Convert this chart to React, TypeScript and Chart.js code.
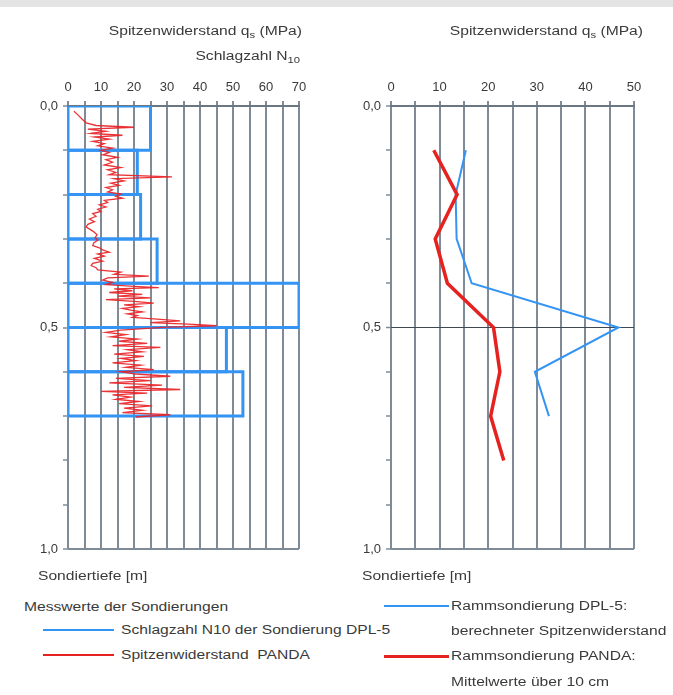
import React, { useEffect, useRef } from 'react';
import { Chart, registerables } from 'chart.js';

Chart.register(...registerables);

// ---------------- data ----------------
// Left chart: DPL-5 blow count N10 per 10 cm layer (drawn as boxes)
const layerTop = [0.0, 0.1, 0.2, 0.3, 0.4, 0.5, 0.6];
const layerBottom = [0.1, 0.2, 0.3, 0.4, 0.5, 0.6, 0.7];
const n10 = [25, 21, 22, 27, 70, 48, 53];

// Left chart: PANDA cone resistance profile (MPa) vs depth (m)
const pandaDepth = [
  0.012, 0.020, 0.030, 0.038, 0.044, 0.048, 0.052, 0.057, 0.062, 0.066,
  0.070, 0.075, 0.080, 0.085, 0.090, 0.095, 0.100, 0.105, 0.110, 0.116,
  0.121, 0.127, 0.133, 0.139, 0.144, 0.150, 0.155, 0.160, 0.164, 0.169,
  0.174, 0.179, 0.184, 0.189, 0.194, 0.199, 0.204, 0.208, 0.213, 0.218,
  0.223, 0.228, 0.233, 0.238, 0.243, 0.249, 0.255, 0.261, 0.267, 0.273,
  0.279, 0.285, 0.291, 0.297, 0.303, 0.309, 0.315, 0.320, 0.325, 0.330,
  0.334, 0.339, 0.344, 0.350, 0.355, 0.360, 0.365, 0.370, 0.375, 0.380,
  0.384, 0.388, 0.393, 0.398, 0.403, 0.407, 0.410, 0.413, 0.417, 0.421,
  0.425, 0.429, 0.433, 0.437, 0.441, 0.445, 0.449, 0.453, 0.457, 0.461,
  0.465, 0.469, 0.473, 0.477, 0.481, 0.485, 0.489, 0.493, 0.496, 0.499,
  0.502, 0.506, 0.511, 0.516, 0.521, 0.526, 0.531, 0.536, 0.541, 0.545,
  0.550, 0.555, 0.560, 0.565, 0.570, 0.575, 0.580, 0.585, 0.590, 0.595,
  0.600, 0.605, 0.610, 0.615, 0.620, 0.625, 0.630, 0.635, 0.640, 0.644,
  0.648, 0.652, 0.657, 0.662, 0.667, 0.672, 0.677, 0.682, 0.687, 0.692,
  0.697, 0.702,
];
const pandaQs = [
  1.8, 3.0, 4.3, 5.5, 8.5, 20.0, 6.0, 11.5, 7.0, 16.5,
  8.0, 12.5, 7.5, 11.0, 9.0, 13.5, 10.0, 12.5, 10.5, 15.0,
  11.5, 13.5, 11.0, 16.0, 12.0, 14.5, 12.5, 31.5, 14.0, 17.0,
  13.0, 15.5, 11.5, 13.5, 12.0, 16.0, 14.5, 16.5, 11.0, 12.0,
  9.5, 11.5, 9.0, 10.0, 7.5, 8.5, 6.5, 8.0, 6.0, 5.5,
  6.8, 8.0, 8.8, 8.2, 9.0, 7.8, 7.5, 9.5, 10.5, 12.5,
  9.0, 11.0, 8.0, 10.5, 7.5, 7.0, 8.5, 9.0, 16.0, 14.0,
  24.5, 12.0, 10.5, 13.5, 11.5, 20.0, 27.5, 14.0, 19.5, 12.5,
  22.5, 15.0, 25.0, 11.5, 20.0, 26.0, 17.0, 21.5, 16.5, 19.0,
  22.5, 18.0, 21.0, 19.5, 27.0, 34.0, 25.0, 38.0, 45.0, 30.0,
  24.0, 16.0, 11.5, 17.5, 13.0, 21.0, 15.5, 24.0, 13.5, 28.0,
  18.0, 22.5, 14.0, 23.0, 16.0, 20.5, 13.5, 22.0, 17.5, 26.0,
  16.0, 20.5, 31.0, 14.5, 25.0, 12.5, 28.5, 17.0, 34.0, 10.0,
  24.0, 13.5, 19.0, 14.5, 21.5, 15.5, 25.5, 17.0, 22.5, 16.5,
  31.0, 20.5,
];

// Right chart: DPL-5 computed cone resistance (MPa)
const dplDepth = [0.1, 0.2, 0.3, 0.4, 0.5, 0.6, 0.7];
const dplQs = [15.4, 13.3, 13.5, 16.6, 46.8, 29.6, 32.5];

// Right chart: PANDA mean values over 10 cm (MPa)
const pandaMeanDepth = [0.1, 0.2, 0.3, 0.4, 0.5, 0.6, 0.7, 0.8];
const pandaMeanQs = [8.8, 13.6, 9.1, 11.6, 21.1, 22.4, 20.5, 23.2];

// Axis ticks
const leftXMax = 70;
const rightXMax = 50;
const xLabelStep = 10;
const xGridStep = 5;
const depthStep = 0.1;
const depthLabelValues = [0.0, 0.5, 1.0];
const depthLabels = ['0,0', '0,5', '1,0'];

// ---------------- styling ----------------
const FONT = '"Liberation Sans", Arial, sans-serif';
const TEXT = '#3a3a3a';
const GRID = '#7f8c97';
const AXIS = '#6a7782';
const BLUE = '#3494f4';
const RED = '#e5221f';
const TS = 1.25; // horizontal text stretch as in reference

type Seg = { t: string; sub?: boolean };
type RichItem = {
  segs: Seg[];
  x: (a: any) => number;
  y: number;
  align: 'left' | 'right';
  size: number;
};

function drawRich(ctx: CanvasRenderingContext2D, it: RichItem, x: number) {
  const fMain = `${it.size}px ${FONT}`;
  const fSub = `${Math.round(it.size * 0.72)}px ${FONT}`;
  ctx.save();
  ctx.fillStyle = TEXT;
  ctx.textBaseline = 'middle';
  ctx.textAlign = 'left';
  let w = 0;
  for (const s of it.segs) {
    ctx.font = s.sub ? fSub : fMain;
    w += ctx.measureText(s.t).width;
  }
  ctx.translate(x, it.y);
  ctx.scale(TS, 1);
  let cx = it.align === 'right' ? -w : 0;
  for (const s of it.segs) {
    ctx.font = s.sub ? fSub : fMain;
    ctx.fillText(s.t, cx, s.sub ? it.size * 0.32 : 0);
    cx += ctx.measureText(s.t).width;
  }
  ctx.restore();
}

function richPlugin(items: RichItem[]) {
  return {
    id: 'richText',
    afterDraw(chart: any) {
      const a = chart.chartArea;
      for (const it of items) drawRich(chart.ctx, it, it.x(a));
    },
  };
}

const isMajorDepth = (v: number) => depthLabelValues.some((d) => Math.abs(d - v) < 1e-6);

function makeOptions(xMax: number, padRight: number, midLine: { color: string; width: number }) {
  return {
    responsive: false,
    maintainAspectRatio: false,
    animation: false as const,
    devicePixelRatio: 1,
    layout: { padding: { left: 0, top: 0, right: padRight, bottom: 51 } },
    plugins: { legend: { display: false }, tooltip: { enabled: false }, title: { display: false } },
    elements: { point: { radius: 0, hoverRadius: 0 } },
    scales: {
      x: {
        type: 'linear' as const,
        position: 'top' as const,
        min: 0,
        max: xMax,
        afterFit: (s: any) => {
          s.height = 106;
        },
        ticks: {
          stepSize: xGridStep,
          autoSkip: false,
          maxRotation: 0,
          padding: 6,
          color: TEXT,
          font: { family: FONT, size: 13 },
          callback: (v: any) => (Number(v) % xLabelStep === 0 ? String(v) : ''),
        },
        grid: {
          color: GRID,
          lineWidth: 2,
          tickLength: 5,
          tickColor: GRID,
          tickWidth: 2,
        },
        border: { display: true, color: AXIS, width: 2 },
      },
      y: {
        type: 'linear' as const,
        reverse: true,
        min: 0,
        max: 1,
        afterFit: (s: any) => {
          s.width = 68;
        },
        ticks: {
          stepSize: depthStep,
          autoSkip: false,
          padding: 5,
          color: TEXT,
          font: { family: FONT, size: 13 },
          callback: (v: any) => {
            const idx = depthLabelValues.findIndex((d) => Math.abs(d - Number(v)) < 1e-6);
            return idx >= 0 ? depthLabels[idx] : '';
          },
        },
        grid: {
          color: (c: any) => {
            const v = c.tick ? c.tick.value : -1;
            if (Math.abs(v - 0.5) < 1e-6) return midLine.color;
            return isMajorDepth(v) ? GRID : 'rgba(0,0,0,0)';
          },
          lineWidth: (c: any) => {
            const v = c.tick ? c.tick.value : -1;
            return Math.abs(v - 0.5) < 1e-6 ? midLine.width : 2;
          },
          tickLength: 5,
          tickColor: GRID,
          tickWidth: 1.5,
        },
        border: { display: false },
      },
    },
  };
}

const titleQs: Seg[] = [{ t: 'Spitzenwiderstand q' }, { t: 's', sub: true }, { t: ' (MPa)' }];
const titleN10: Seg[] = [{ t: 'Schlagzahl N' }, { t: '10', sub: true }];
const depthTitle: Seg[] = [{ t: 'Sondiertiefe [m]' }];

function LeftChart() {
  const ref = useRef<HTMLCanvasElement | null>(null);
  useEffect(() => {
    if (!ref.current) return;
    const boxes = n10.map((n, i) => ({
      label: `N10 ${i}`,
      data: [
        { x: 0, y: layerTop[i] },
        { x: n, y: layerTop[i] },
        { x: n, y: layerBottom[i] },
        { x: 0, y: layerBottom[i] },
        { x: 0, y: layerTop[i] },
      ],
      showLine: true,
      borderColor: BLUE,
      borderWidth: 3,
      borderJoinStyle: 'miter' as const,
      pointRadius: 0,
      fill: false,
    }));
    const panda = {
      label: 'Spitzenwiderstand PANDA',
      data: pandaDepth.map((d, i) => ({ x: pandaQs[i], y: d })),
      showLine: true,
      borderColor: 'rgba(232,34,38,0.92)',
      borderWidth: 1.3,
      pointRadius: 0,
      fill: false,
    };
    const chart = new Chart(ref.current, {
      type: 'scatter',
      data: { datasets: [panda, ...boxes] as any },
      options: makeOptions(leftXMax, 24, { color: GRID, width: 2 }) as any,
      plugins: [
        richPlugin([
          { segs: titleQs, x: (a) => a.right + 3, y: 32, align: 'right', size: 12.5 },
          { segs: titleN10, x: (a) => a.right + 1, y: 57, align: 'right', size: 12.5 },
          { segs: depthTitle, x: (a) => a.left - 30, y: 577, align: 'left', size: 12.5 },
        ]),
      ],
    });
    return () => chart.destroy();
  }, []);
  return <canvas ref={ref} width={323} height={600} style={{ position: 'absolute', left: 0, top: 0 }} />;
}

function RightChart() {
  const ref = useRef<HTMLCanvasElement | null>(null);
  useEffect(() => {
    if (!ref.current) return;
    const mean = {
      label: 'Rammsondierung PANDA: Mittelwerte über 10 cm',
      data: pandaMeanDepth.map((d, i) => ({ x: pandaMeanQs[i], y: d })),
      showLine: true,
      borderColor: RED,
      borderWidth: 3.5,
      pointRadius: 0,
      fill: false,
    };
    const dpl = {
      label: 'Rammsondierung DPL-5: berechneter Spitzenwiderstand',
      data: dplDepth.map((d, i) => ({ x: dplQs[i], y: d })),
      showLine: true,
      borderColor: BLUE,
      borderWidth: 2,
      pointRadius: 0,
      fill: false,
    };
    const chart = new Chart(ref.current, {
      type: 'scatter',
      data: { datasets: [mean, dpl] as any },
      options: makeOptions(rightXMax, 39, { color: '#3d4852', width: 1 }) as any,
      plugins: [
        richPlugin([
          { segs: titleQs, x: (a) => a.right + 9, y: 32, align: 'right', size: 12.5 },
          { segs: depthTitle, x: (a) => a.left - 29, y: 577, align: 'left', size: 12.5 },
        ]),
      ],
    });
    return () => chart.destroy();
  }, []);
  return <canvas ref={ref} width={350} height={600} style={{ position: 'absolute', left: 323, top: 0 }} />;
}

const legendText: React.CSSProperties = {
  position: 'absolute',
  font: `12.5px ${FONT}`,
  color: TEXT,
  whiteSpace: 'pre',
  lineHeight: '14px',
  height: 14,
  transform: `scaleX(${TS})`,
  transformOrigin: 'left center',
};

function Txt({ x, y, children }: { x: number; y: number; children: React.ReactNode }) {
  return <div style={{ ...legendText, left: x, top: y - 7 }}>{children}</div>;
}

function Swatch({ x1, x2, y, color, w }: { x1: number; x2: number; y: number; color: string; w: number }) {
  return (
    <div
      style={{ position: 'absolute', left: x1, top: y - w / 2, width: x2 - x1, height: w, background: color }}
    />
  );
}

export default function App() {
  return (
    <div style={{ position: 'absolute', left: 0, top: 0, width: 673, height: 695, background: '#fff', overflow: 'hidden' }}>
      <div style={{ position: 'absolute', left: 0, top: 0, width: 673, height: 7, background: '#e4e4e4' }} />
      <LeftChart />
      <RightChart />
      <Txt x={24} y={607}>Messwerte der Sondierungen</Txt>
      <Swatch x1={43} x2={114} y={630} color={BLUE} w={2} />
      <Txt x={121} y={630}>Schlagzahl N10 der Sondierung DPL-5</Txt>
      <Swatch x1={43} x2={114} y={655} color={RED} w={2} />
      <Txt x={121} y={655}>Spitzenwiderstand  PANDA</Txt>
      <Swatch x1={384} x2={449} y={606} color={BLUE} w={2} />
      <Txt x={451} y={606}>Rammsondierung DPL-5:</Txt>
      <Txt x={451} y={631}>berechneter Spitzenwiderstand</Txt>
      <Swatch x1={384} x2={449} y={656} color={RED} w={3} />
      <Txt x={451} y={656}>Rammsondierung PANDA:</Txt>
      <Txt x={451} y={682}>Mittelwerte über 10 cm</Txt>
    </div>
  );
}
